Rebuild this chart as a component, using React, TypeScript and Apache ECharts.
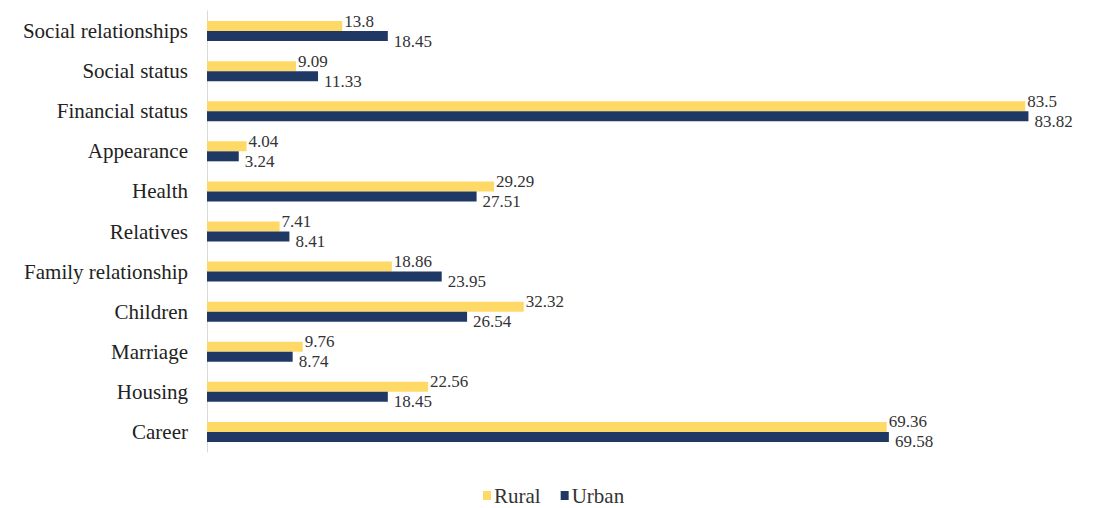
import React, { useEffect, useRef } from "react";
import * as echarts from "echarts";

const categories = [
  "Career",
  "Housing",
  "Marriage",
  "Children",
  "Family relationship",
  "Relatives",
  "Health",
  "Appearance",
  "Financial status",
  "Social status",
  "Social relationships",
];
const rural = [69.36, 22.56, 9.76, 32.32, 18.86, 7.41, 29.29, 4.04, 83.5, 9.09, 13.8];
const urban = [69.58, 18.45, 8.74, 26.54, 23.95, 8.41, 27.51, 3.24, 83.82, 11.33, 18.45];

const FONT = "'Liberation Serif', 'DejaVu Serif', serif";

export default function App() {
  const ref = useRef<HTMLDivElement>(null);
  useEffect(() => {
    if (!ref.current) return;
    const chart = echarts.init(ref.current, undefined, { renderer: "svg" });
    chart.setOption({
      animation: false,
      backgroundColor: "#ffffff",
      grid: { left: 207, right: 53, top: 11, bottom: 56, containLabel: false },
      legend: {
        bottom: -3,
        left: 478,
        icon: "rect",
        itemWidth: 8,
        itemHeight: 9,
        itemGap: 20,
        textStyle: { fontFamily: FONT, fontSize: 21, color: "#333", padding: [0, 0, 0, -2] },
        data: ["Rural", "Urban"],
      },
      xAxis: {
        type: "value",
        min: 0,
        max: 85,
        show: false,
        splitLine: { show: false },
      },
      yAxis: {
        type: "category",
        data: categories,
        axisLine: { show: true, lineStyle: { color: "#d9d9d9", width: 1 } },
        axisTick: { show: false },
        axisLabel: { margin: 19, fontFamily: FONT, fontSize: 21, color: "#222" },
      },
      series: [
        {
          name: "Rural",
          type: "bar",
          data: rural,
          barWidth: 10,
          barGap: "0%",
          itemStyle: { color: "#FFD966" },
          label: {
            show: true,
            position: "right",
            distance: 2,
            offset: [0, -5],
            fontFamily: FONT,
            fontSize: 17,
            lineHeight: 16,
            color: "#333",
          },
        },
        {
          name: "Urban",
          type: "bar",
          data: urban,
          barWidth: 10,
          barGap: "0%",
          itemStyle: { color: "#203864" },
          label: {
            show: true,
            position: "right",
            distance: 6,
            offset: [0, 5],
            fontFamily: FONT,
            fontSize: 17,
            lineHeight: 16,
            color: "#333",
          },
        },
      ],
    });
    return () => chart.dispose();
  }, []);
  return (
    <div
      ref={ref}
      style={{ position: "fixed", left: 0, top: 0, width: 1093, height: 508 }}
    />
  );
}
